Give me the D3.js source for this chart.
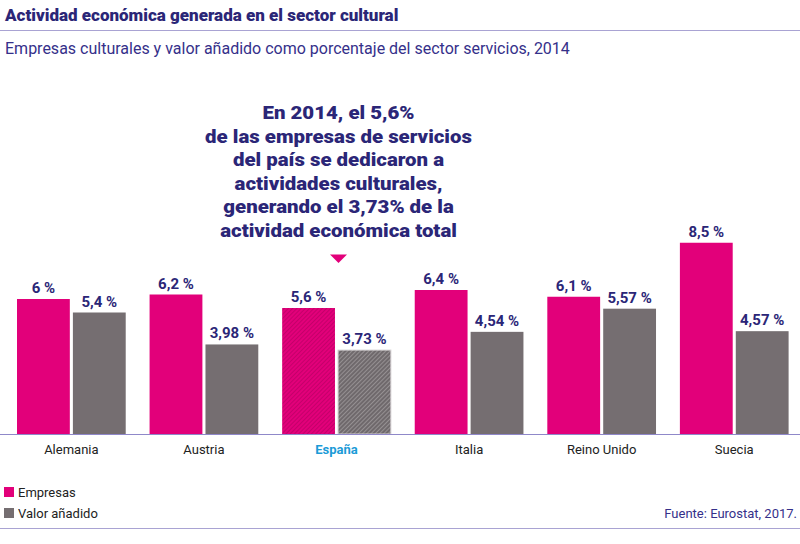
<!DOCTYPE html>
<html lang="es">
<head>
<meta charset="UTF-8">
<title>Actividad económica generada en el sector cultural</title>
<style>
    body { margin: 0; padding: 0; background: #fff; }
    svg { display: block; }
    .title { font-family: "Roboto", sans-serif; font-weight: 900; font-size: 17px; fill: #2b2677; }
    .subtitle { font-family: "Roboto", sans-serif; font-size: 16px; fill: #35308a; }
    .note { font-family: "Roboto", sans-serif; font-weight: 900; font-size: 18.5px; fill: #2b2677; text-anchor: middle; }
    .val { font-family: "Roboto", sans-serif; font-weight: bold; font-size: 15px; fill: #2b2677; text-anchor: middle; }
    .cat { font-family: "Roboto", sans-serif; font-size: 13px; fill: #222; text-anchor: middle; }
    .legend, .source { font-family: "Roboto", sans-serif; font-size: 13px; }
    .legend { fill: #222; }
    .source { fill: #35308a; text-anchor: end; }
</style>
</head>
<body>
<svg id="chart" width="800" height="544"></svg>
<script src="https://d3js.org/d3.v7.min.js"></script>
<script>
    var countries = ["Alemania", "Austria", "España", "Italia", "Reino Unido", "Suecia"];
    var empresas = [6, 6.2, 5.6, 6.4, 6.1, 8.5];
    var valorAnadido = [5.4, 3.98, 3.73, 4.54, 5.57, 4.57];
    var empresasLabels = ["6 %", "6,2 %", "5,6 %", "6,4 %", "6,1 %", "8,5 %"];
    var valorLabels = ["5,4 %", "3,98 %", "3,73 %", "4,54 %", "5,57 %", "4,57 %"];
    var seriesNames = ["Empresas", "Valor añadido"];
    var highlight = "España";
    var noteLines = [
        "En 2014, el 5,6%",
        "de las empresas de servicios",
        "del país se dedicaron a",
        "actividades culturales,",
        "generando el 3,73% de la",
        "actividad económica total"
    ];

    var colors = { "Empresas": "#e2007a", "Valor añadido": "#756e71" };

    var svg = d3.select("#chart");
    var defs = svg.append("defs");

    // rayado para el país destacado
    function hatch(id, base, stripe) {
        var p = defs.append("pattern")
            .attr("id", id)
            .attr("patternUnits", "userSpaceOnUse")
            .attr("width", 3).attr("height", 3)
            .attr("patternTransform", "rotate(45)");
        p.append("rect").attr("width", 3).attr("height", 3).attr("fill", base);
        p.append("rect").attr("width", 1).attr("height", 3).attr("fill", stripe);
    }
    hatch("hatch-emp", "#e2007a", "#c4006a");
    hatch("hatch-val", "#6f696c", "#959092");

    var baseline = 434;

    var x = d3.scaleBand()
        .domain(countries)
        .range([17, 788.6])
        .paddingInner(0.18)
        .paddingOuter(0);

    var xs = d3.scaleBand()
        .domain(seriesNames)
        .range([0, x.bandwidth()])
        .paddingInner(0.055);

    var y = d3.scaleLinear()
        .domain([0, 10])
        .range([baseline, baseline - 225]);

    // título y reglas
    svg.append("text").attr("class", "title").attr("x", 5).attr("y", 21)
        .text("Actividad económica generada en el sector cultural");
    svg.append("line").attr("x1", 0).attr("x2", 800).attr("y1", 30.5).attr("y2", 30.5)
        .attr("stroke", "#a9a3d3").attr("stroke-width", 1);
    svg.append("text").attr("class", "subtitle").attr("x", 5).attr("y", 54)
        .text("Empresas culturales y valor añadido como porcentaje del sector servicios, 2014");

    var data = countries.map(function (c, i) {
        return {
            country: c,
            values: [
                { series: seriesNames[0], value: empresas[i], label: empresasLabels[i] },
                { series: seriesNames[1], value: valorAnadido[i], label: valorLabels[i] }
            ]
        };
    });

    var groups = svg.selectAll(".group")
        .data(data)
        .enter().append("g")
        .attr("class", "group")
        .attr("transform", d => "translate(" + x(d.country) + ",0)");

    groups.selectAll("rect")
        .data(d => d.values.map(v => Object.assign({ country: d.country }, v)))
        .enter().append("rect")
        .attr("x", d => xs(d.series))
        .attr("y", d => y(d.value))
        .attr("width", xs.bandwidth())
        .attr("height", d => baseline - y(d.value))
        .attr("fill", function (d) {
            if (d.country === highlight) return d.series === "Empresas" ? "url(#hatch-emp)" : "url(#hatch-val)";
            return colors[d.series];
        })
        .attr("stroke", d => d.country === highlight && d.series !== "Empresas" ? "#d6d2d4" : "none")
        .attr("stroke-width", 1);

    groups.selectAll(".val")
        .data(d => d.values)
        .enter().append("text")
        .attr("class", "val")
        .attr("x", d => xs(d.series) + xs.bandwidth() / 2)
        .attr("y", d => y(d.value) - 6)
        .text(d => d.label);

    // eje x
    svg.append("line").attr("x1", 0).attr("x2", 800).attr("y1", baseline + 0.5).attr("y2", baseline + 0.5)
        .attr("stroke", "#8f88c9").attr("stroke-width", 1.2);

    svg.selectAll(".cat")
        .data(countries)
        .enter().append("text")
        .attr("class", "cat")
        .attr("x", d => x(d) + x.bandwidth() / 2)
        .attr("y", baseline + 20)
        .style("font-weight", d => d === highlight ? "bold" : null)
        .style("fill", d => d === highlight ? "#1b9bd7" : null)
        .text(d => d);

    // nota sobre España: letra ancha, se estira en horizontal
    var cx = x(highlight) + x.bandwidth() / 2 + 2;
    var note = svg.append("g");
    var noteText = note.selectAll(".note")
        .data(noteLines)
        .enter().append("text")
        .attr("class", "note")
        .attr("x", 0)
        .attr("y", (d, i) => 119.5 + i * 23.5)
        .text(d => d);
    var widest = noteText.nodes()[1].getComputedTextLength();
    var sx = 267 / widest;
    note.attr("transform", "translate(" + cx + ",0) scale(" + sx + ",1)");

    svg.append("path")
        .attr("d", "M" + (cx - 8.5) + ",254.5 L" + (cx + 8.5) + ",254.5 L" + cx + ",263 Z")
        .attr("fill", "#e2007a");

    // leyenda
    var legend = svg.selectAll(".leg")
        .data(seriesNames)
        .enter().append("g")
        .attr("class", "leg")
        .attr("transform", (d, i) => "translate(4," + (487 + i * 21) + ")");
    legend.append("rect").attr("width", 10).attr("height", 10).attr("fill", d => colors[d]);
    legend.append("text").attr("class", "legend").attr("x", 14).attr("y", 10).text(d => d);

    svg.append("text").attr("class", "source").attr("x", 797).attr("y", 518)
        .text("Fuente: Eurostat, 2017.");
    svg.append("line").attr("x1", 0).attr("x2", 800).attr("y1", 528.5).attr("y2", 528.5)
        .attr("stroke", "#a9a3d3").attr("stroke-width", 1);
</script>
</body>
</html>
